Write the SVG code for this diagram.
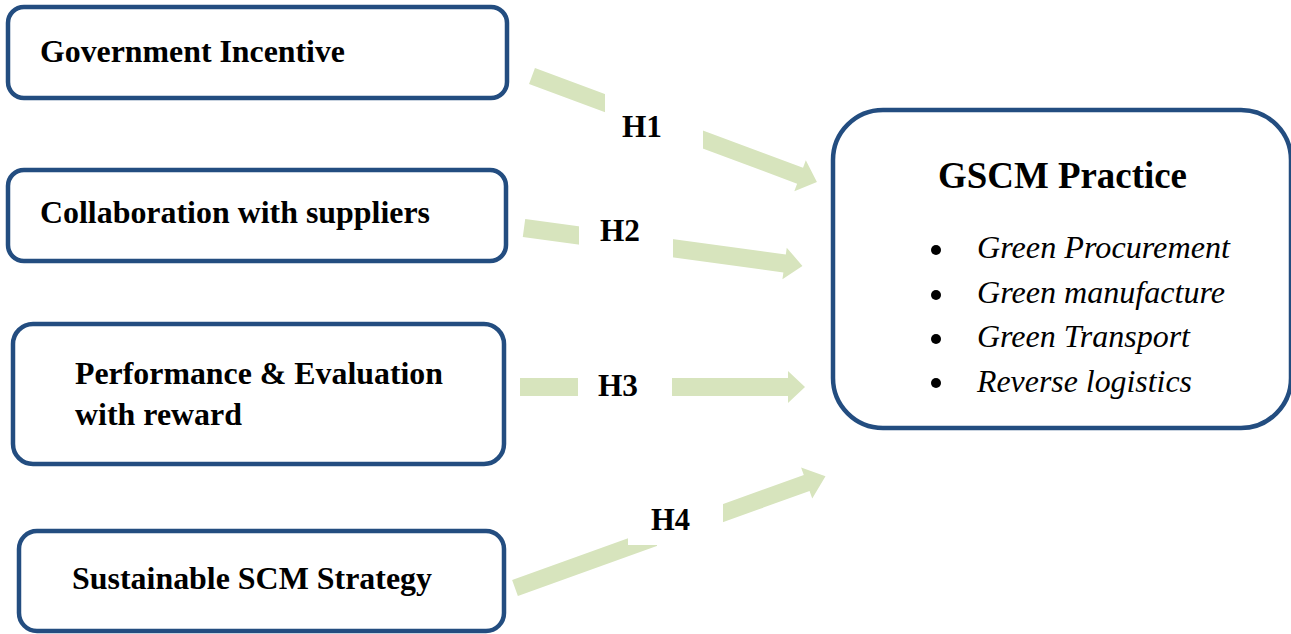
<svg xmlns="http://www.w3.org/2000/svg" width="1291" height="634" viewBox="0 0 1291 634">
<style>
.box{fill:#fff;stroke:#234d80;stroke-width:4.5}
.lbl{font-family:"Liberation Serif","Times New Roman",serif;font-weight:bold;font-size:32px;fill:#000}
.title{font-family:"Liberation Serif","Times New Roman",serif;font-weight:bold;font-size:37px;fill:#000}
.item{font-family:"Liberation Serif","Times New Roman",serif;font-style:italic;font-size:31px;fill:#000}
.arr{fill:#d7e4bd}
.mask{fill:#fff}
.h{font-family:"Liberation Serif","Times New Roman",serif;font-weight:bold;font-size:32px;fill:#000}
</style>
<rect width="1291" height="634" fill="#fff"/>
<g id="connectors">
  <polygon class="arr" points="0,-8.5 286,-8.5 286,-16.5 304,0 286,16.5 286,8.5 0,8.5" transform="translate(532,76) rotate(20.4)"/>
  <rect class="mask" x="605" y="80" width="98" height="80"/>
  <text class="h" x="622" y="137" textLength="40" lengthAdjust="spacingAndGlyphs">H1</text>
  <polygon class="arr" points="0,-9 263,-9 263,-16 281,0 263,16 263,9 0,9" transform="translate(524,228) rotate(7.76)"/>
  <rect class="mask" x="579" y="212" width="94" height="50"/>
  <text class="h" x="600" y="241" textLength="40" lengthAdjust="spacingAndGlyphs">H2</text>
  <polygon class="arr" points="0,-9 268,-9 268,-16 285,0 268,16 268,9 0,9" transform="translate(520,387)"/>
  <rect class="mask" x="578" y="370" width="94" height="35"/>
  <text class="h" x="598" y="396" textLength="40" lengthAdjust="spacingAndGlyphs">H3</text>
  <polygon class="arr" points="0,-8.5 310,-8.5 310,-16.5 330,0 310,16.5 310,8.5 0,8.5" transform="translate(515,588) rotate(-19.8)"/>
  <polygon class="mask" points="628,470 723,470 723,570 657,570 657,545 628,545"/>
  <text class="h" x="651" y="530" textLength="39" lengthAdjust="spacingAndGlyphs">H4</text>
</g>
<g id="node-government">
  <rect class="box" x="8" y="7" width="499" height="91" rx="16"/>
  <text class="lbl" x="40" y="62" textLength="305" lengthAdjust="spacingAndGlyphs">Government Incentive</text>
</g>
<g id="node-collaboration">
  <rect class="box" x="8" y="170" width="498" height="91" rx="16"/>
  <text class="lbl" x="40" y="223" textLength="390" lengthAdjust="spacingAndGlyphs">Collaboration with suppliers</text>
</g>
<g id="node-performance">
  <rect class="box" x="13" y="324" width="491" height="140" rx="20"/>
  <text class="lbl" x="75" y="384" textLength="368" lengthAdjust="spacingAndGlyphs">Performance &amp; Evaluation</text>
  <text class="lbl" x="75" y="425" textLength="167" lengthAdjust="spacingAndGlyphs">with reward</text>
</g>
<g id="node-sustainable">
  <rect class="box" x="19" y="531" width="485" height="100" rx="18"/>
  <text class="lbl" x="72" y="589" textLength="360" lengthAdjust="spacingAndGlyphs">Sustainable SCM Strategy</text>
</g>
<g id="node-gscm">
  <rect class="box" x="833" y="110" width="458" height="318" rx="50"/>
  <text class="title" x="938" y="188" textLength="249" lengthAdjust="spacingAndGlyphs">GSCM Practice</text>
  <circle cx="936" cy="250" r="5"/>
  <circle cx="936" cy="295" r="5"/>
  <circle cx="936" cy="339" r="5"/>
  <circle cx="936" cy="383" r="5"/>
  <text class="item" x="977" y="258" textLength="253" lengthAdjust="spacingAndGlyphs">Green Procurement</text>
  <text class="item" x="977" y="303" textLength="248" lengthAdjust="spacingAndGlyphs">Green manufacture</text>
  <text class="item" x="977" y="347" textLength="213" lengthAdjust="spacingAndGlyphs">Green Transport</text>
  <text class="item" x="977" y="392" textLength="215" lengthAdjust="spacingAndGlyphs">Reverse logistics</text>
</g>
</svg>
